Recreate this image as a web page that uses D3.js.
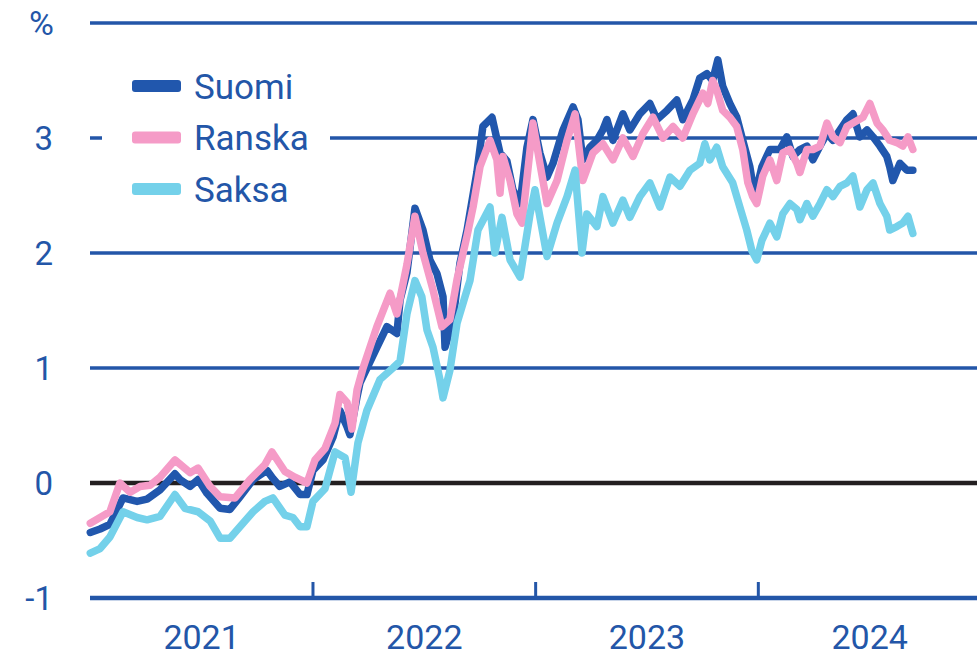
<!DOCTYPE html>
<html>
<head>
<meta charset="utf-8">
<script src="https://cdn.jsdelivr.net/npm/d3@7"></script>
<style>
  body { margin: 0; background: #fff; }
  svg text { font-family: Roboto, "Noto Sans", sans-serif; fill: #2356a8; }
</style>
</head>
<body>
<script>
// time as fractional year, value in %
var suomi = [
  [2021.000, -0.43], [2021.044, -0.40], [2021.088, -0.36], [2021.147, -0.13], [2021.210, -0.16],
  [2021.255, -0.14], [2021.313, -0.06], [2021.380, 0.08], [2021.403, 0.03], [2021.448, -0.03],
  [2021.484, 0.03], [2021.524, -0.09], [2021.583, -0.22], [2021.627, -0.23], [2021.672, -0.12],
  [2021.731, 0.03], [2021.793, 0.11], [2021.820, 0.04], [2021.851, -0.03], [2021.897, 0.01],
  [2021.942, -0.10], [2021.973, -0.10], [2022.000, 0.11], [2022.045, 0.20], [2022.090, 0.40],
  [2022.121, 0.63], [2022.153, 0.49], [2022.166, 0.42], [2022.198, 0.75], [2022.211, 0.87],
  [2022.287, 1.18], [2022.332, 1.36], [2022.377, 1.30], [2022.391, 1.59], [2022.422, 1.83],
  [2022.458, 2.39], [2022.494, 2.20], [2022.525, 1.94], [2022.557, 1.82], [2022.584, 1.62],
  [2022.593, 1.18], [2022.629, 1.42], [2022.660, 1.91], [2022.692, 2.20], [2022.705, 2.35],
  [2022.736, 2.70], [2022.763, 3.10], [2022.804, 3.18], [2022.840, 2.87], [2022.871, 2.80],
  [2022.898, 2.55], [2022.930, 2.43], [2022.961, 2.92], [2022.988, 3.16], [2023.019, 2.87],
  [2023.051, 2.66], [2023.078, 2.78], [2023.123, 3.07], [2023.168, 3.27], [2023.190, 3.16],
  [2023.212, 2.81], [2023.244, 2.92], [2023.275, 2.98], [2023.302, 3.07], [2023.320, 3.16],
  [2023.347, 2.98], [2023.392, 3.21], [2023.423, 3.07], [2023.468, 3.21], [2023.513, 3.30],
  [2023.545, 3.16], [2023.590, 3.24], [2023.634, 3.33], [2023.661, 3.16], [2023.706, 3.33],
  [2023.737, 3.52], [2023.769, 3.56], [2023.795, 3.50], [2023.818, 3.68], [2023.840, 3.45],
  [2023.872, 3.30], [2023.903, 3.18], [2023.930, 2.98], [2023.962, 2.75], [2023.984, 2.49],
  [2024.016, 2.75], [2024.052, 2.90], [2024.097, 2.90], [2024.128, 3.01], [2024.155, 2.84],
  [2024.187, 2.90], [2024.218, 2.93], [2024.245, 2.81], [2024.277, 2.93], [2024.308, 3.04],
  [2024.335, 2.98], [2024.367, 3.07], [2024.398, 3.16], [2024.425, 3.21], [2024.456, 3.01],
  [2024.488, 3.07], [2024.515, 3.01], [2024.546, 2.93], [2024.577, 2.84], [2024.590, 2.75],
  [2024.604, 2.63], [2024.636, 2.78], [2024.667, 2.72], [2024.694, 2.72]
];

var ranska = [
  [2021.000, -0.35], [2021.044, -0.30], [2021.088, -0.25], [2021.133, 0.00], [2021.179, -0.08],
  [2021.223, -0.03], [2021.268, -0.02], [2021.313, 0.05], [2021.380, 0.20], [2021.448, 0.09],
  [2021.484, 0.13], [2021.538, -0.03], [2021.583, -0.12], [2021.650, -0.13], [2021.717, 0.03],
  [2021.784, 0.16], [2021.816, 0.27], [2021.874, 0.10], [2021.919, 0.05], [2021.973, 0.00],
  [2022.009, 0.20], [2022.054, 0.30], [2022.099, 0.52], [2022.121, 0.77], [2022.153, 0.70],
  [2022.175, 0.47], [2022.198, 0.81], [2022.225, 1.00], [2022.287, 1.36], [2022.346, 1.65],
  [2022.377, 1.47], [2022.422, 1.90], [2022.458, 2.32], [2022.494, 2.00], [2022.539, 1.68],
  [2022.579, 1.36], [2022.615, 1.42], [2022.647, 1.77], [2022.692, 2.15], [2022.719, 2.40],
  [2022.750, 2.75], [2022.795, 2.98], [2022.826, 2.81], [2022.840, 2.52], [2022.853, 2.84],
  [2022.885, 2.63], [2022.916, 2.34], [2022.939, 2.26], [2022.988, 3.13], [2023.019, 2.78],
  [2023.051, 2.43], [2023.096, 2.63], [2023.141, 2.98], [2023.177, 3.21], [2023.212, 2.63],
  [2023.257, 2.87], [2023.302, 2.95], [2023.347, 2.81], [2023.392, 3.00], [2023.437, 2.84],
  [2023.482, 3.04], [2023.527, 3.18], [2023.572, 3.00], [2023.617, 3.10], [2023.661, 3.00],
  [2023.706, 3.21], [2023.751, 3.39], [2023.773, 3.30], [2023.795, 3.50], [2023.813, 3.42],
  [2023.840, 3.24], [2023.872, 3.18], [2023.903, 3.10], [2023.930, 2.90], [2023.953, 2.61],
  [2023.975, 2.49], [2023.993, 2.43], [2024.020, 2.67], [2024.052, 2.81], [2024.083, 2.63],
  [2024.110, 2.87], [2024.142, 2.90], [2024.173, 2.78], [2024.187, 2.70], [2024.218, 2.90],
  [2024.245, 2.90], [2024.277, 2.93], [2024.308, 3.13], [2024.335, 3.01], [2024.367, 2.96],
  [2024.398, 3.10], [2024.425, 3.13], [2024.470, 3.18], [2024.501, 3.30], [2024.533, 3.13],
  [2024.559, 3.07], [2024.590, 2.98], [2024.622, 2.96], [2024.649, 2.93], [2024.672, 3.01],
  [2024.694, 2.90]
];

var saksa = [
  [2021.000, -0.61], [2021.044, -0.57], [2021.088, -0.47], [2021.147, -0.25], [2021.210, -0.30],
  [2021.255, -0.32], [2021.313, -0.29], [2021.380, -0.10], [2021.425, -0.22], [2021.484, -0.25],
  [2021.538, -0.33], [2021.583, -0.48], [2021.627, -0.48], [2021.672, -0.38], [2021.731, -0.25],
  [2021.784, -0.16], [2021.820, -0.13], [2021.874, -0.28], [2021.910, -0.30], [2021.942, -0.38],
  [2021.973, -0.38], [2022.000, -0.16], [2022.054, -0.05], [2022.099, 0.27], [2022.144, 0.22],
  [2022.171, -0.08], [2022.202, 0.35], [2022.242, 0.63], [2022.301, 0.90], [2022.359, 1.00],
  [2022.391, 1.06], [2022.422, 1.47], [2022.458, 1.76], [2022.489, 1.62], [2022.512, 1.33],
  [2022.539, 1.18], [2022.570, 0.90], [2022.584, 0.74], [2022.615, 0.98], [2022.647, 1.39],
  [2022.692, 1.68], [2022.705, 1.76], [2022.741, 2.20], [2022.795, 2.40], [2022.817, 2.00],
  [2022.849, 2.31], [2022.885, 1.94], [2022.930, 1.79], [2022.975, 2.34], [2022.997, 2.55],
  [2023.051, 1.97], [2023.096, 2.26], [2023.141, 2.49], [2023.177, 2.72], [2023.208, 2.00],
  [2023.230, 2.34], [2023.275, 2.23], [2023.302, 2.49], [2023.347, 2.26], [2023.392, 2.46],
  [2023.423, 2.31], [2023.468, 2.49], [2023.513, 2.61], [2023.558, 2.40], [2023.603, 2.66],
  [2023.648, 2.58], [2023.693, 2.72], [2023.737, 2.78], [2023.760, 2.95], [2023.782, 2.81],
  [2023.813, 2.92], [2023.840, 2.75], [2023.885, 2.61], [2023.917, 2.40], [2023.948, 2.20],
  [2023.971, 2.02], [2023.993, 1.94], [2024.016, 2.11], [2024.052, 2.26], [2024.083, 2.14],
  [2024.110, 2.34], [2024.142, 2.43], [2024.173, 2.38], [2024.187, 2.29], [2024.218, 2.43],
  [2024.245, 2.32], [2024.277, 2.43], [2024.308, 2.55], [2024.335, 2.49], [2024.367, 2.58],
  [2024.398, 2.61], [2024.425, 2.67], [2024.456, 2.40], [2024.488, 2.55], [2024.515, 2.61],
  [2024.546, 2.43], [2024.577, 2.32], [2024.590, 2.20], [2024.622, 2.23], [2024.649, 2.26],
  [2024.672, 2.32], [2024.694, 2.17]
];

var series = [
  { name: "Suomi", color: "#2157ad", data: suomi },
  { name: "Ranska", color: "#f59bc7", data: ranska },
  { name: "Saksa", color: "#74d1ea", data: saksa }
];
var yTicks = [-1, 0, 1, 2, 3];
var years = [2021, 2022, 2023, 2024];

var w = 977;
var h = 657;
var blue = "#2356a8";

var svg = d3.select("body")
  .append("svg")
  .attr("width", w)
  .attr("height", h);

var x = d3.scaleLinear().domain([2021, 2025]).range([90.3, 981]);
var y = d3.scaleLinear().domain([-1, 4]).range([598, 23]);

// grid lines (1..4)
svg.selectAll("line.grid")
  .data([1, 2, 3, 4])
  .enter()
  .append("line")
  .attr("class", "grid")
  .attr("x1", 90)
  .attr("x2", w)
  .attr("y1", function(d) { return y(d); })
  .attr("y2", function(d) { return y(d); })
  .attr("stroke", blue)
  .attr("stroke-width", 3.5);

// zero line
svg.append("line")
  .attr("x1", 90).attr("x2", w)
  .attr("y1", y(0)).attr("y2", y(0))
  .attr("stroke", "#231f20")
  .attr("stroke-width", 4.5);

// x axis line and year ticks
svg.append("line")
  .attr("x1", 90).attr("x2", w)
  .attr("y1", y(-1)).attr("y2", y(-1))
  .attr("stroke", blue)
  .attr("stroke-width", 4.5);

svg.selectAll("line.tick")
  .data(years.slice(1))
  .enter()
  .append("line")
  .attr("class", "tick")
  .attr("x1", function(d) { return x(d); })
  .attr("x2", function(d) { return x(d); })
  .attr("y1", y(-1))
  .attr("y2", y(-1) - 16)
  .attr("stroke", blue)
  .attr("stroke-width", 3);

// lines
var line = d3.line()
  .x(function(d) { return x(d[0]); })
  .y(function(d) { return y(d[1]); });

svg.selectAll("path.series")
  .data(series)
  .enter()
  .append("path")
  .attr("class", "series")
  .attr("d", function(d) { return line(d.data); })
  .attr("fill", "none")
  .attr("stroke", function(d) { return d.color; })
  .attr("stroke-width", 7.5)
  .attr("stroke-linejoin", "round")
  .attr("stroke-linecap", "round");

// legend box hides grid line behind it
svg.append("rect")
  .attr("x", 102)
  .attr("y", 60)
  .attr("width", 228)
  .attr("height", 155)
  .attr("fill", "#fff");

var legend = svg.selectAll("g.legend")
  .data(series)
  .enter()
  .append("g")
  .attr("class", "legend")
  .attr("transform", function(d, i) { return "translate(132," + (86 + i * 51.5) + ")"; });

legend.append("rect")
  .attr("x", 0)
  .attr("y", -6)
  .attr("width", 49)
  .attr("height", 12)
  .attr("rx", 3)
  .attr("fill", function(d) { return d.color; });

legend.append("text")
  .attr("x", 62)
  .attr("y", 0)
  .attr("dy", "0.36em")
  .attr("font-size", "35px")
  .text(function(d) { return d.name; });

// y labels
svg.selectAll("text.ylab")
  .data(yTicks)
  .enter()
  .append("text")
  .attr("class", "ylab")
  .attr("x", 53)
  .attr("y", function(d) { return y(d); })
  .attr("dy", "0.36em")
  .attr("text-anchor", "end")
  .attr("font-size", "33px")
  .text(function(d) { return d; });

svg.append("text")
  .attr("x", 54)
  .attr("y", y(4))
  .attr("dy", "0.36em")
  .attr("text-anchor", "end")
  .attr("font-size", "34px")
  .text("%");

// year labels
svg.selectAll("text.year")
  .data(years)
  .enter()
  .append("text")
  .attr("class", "year")
  .attr("x", function(d) { return x(d + 0.5); })
  .attr("y", 649)
  .attr("text-anchor", "middle")
  .attr("font-size", "34px")
  .text(function(d) { return d; });
</script>
</body>
</html>
